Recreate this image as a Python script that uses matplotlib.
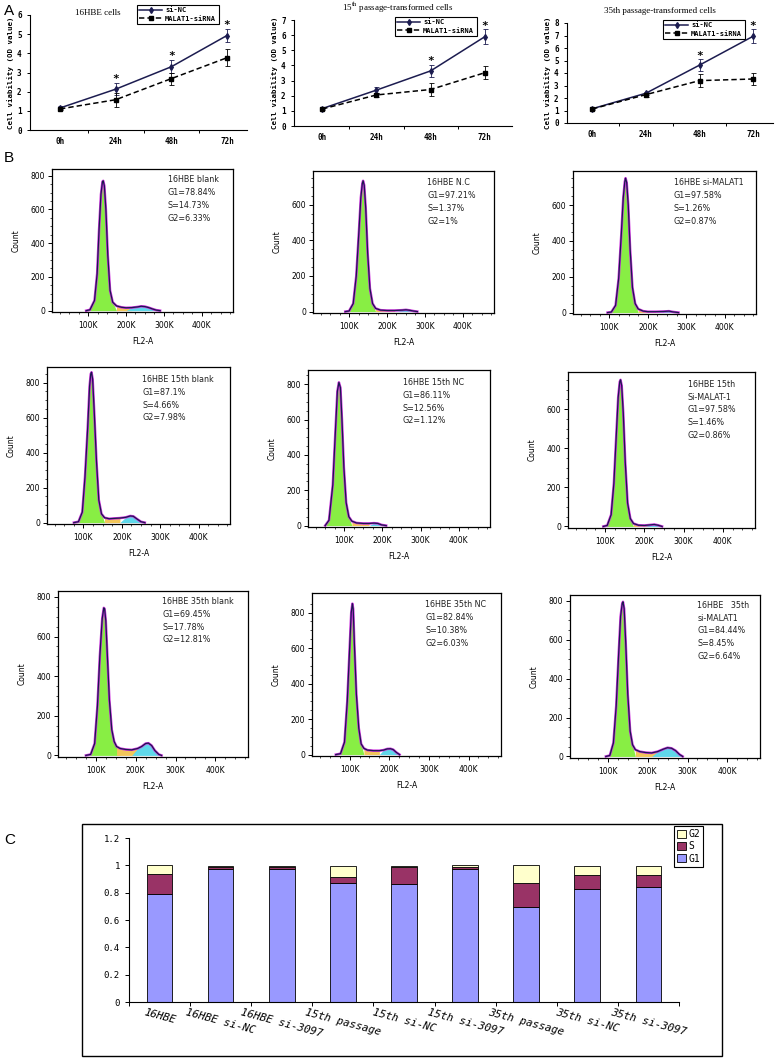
import numpy as np
import matplotlib
matplotlib.use("Agg")
import matplotlib.pyplot as plt
from matplotlib.patches import Rectangle, Patch
from matplotlib.lines import Line2D

plt.rcParams["mathtext.fontset"] = "stix"

# ---------------- data: panel A (cell viability, OD value) ----------------
hours = ["0h", "24h", "48h", "72h"]

a1_nc = [1.15, 2.13, 3.30, 4.93]
a1_nc_err = [0.08, 0.32, 0.33, 0.36]
a1_mal = [1.10, 1.58, 2.68, 3.77]
a1_mal_err = [0.05, 0.36, 0.32, 0.45]
a1_star = [False, True, True, True]

a2_nc = [1.15, 2.37, 3.64, 5.90]
a2_nc_err = [0.06, 0.22, 0.40, 0.48]
a2_mal = [1.12, 2.05, 2.41, 3.52]
a2_mal_err = [0.05, 0.15, 0.40, 0.42]
a2_star = [False, False, True, True]

a3_nc = [1.14, 2.38, 4.63, 6.94]
a3_nc_err = [0.05, 0.12, 0.48, 0.57]
a3_mal = [1.12, 2.27, 3.39, 3.52]
a3_mal_err = [0.05, 0.15, 0.52, 0.50]
a3_star = [False, False, True, True]

# ---------------- data: panel B (cell-cycle histograms, FL2-A in K) ----------------
b1_x = [95, 105, 117, 124, 129, 134, 138, 140, 143, 147, 152, 158, 165, 175, 188, 200, 215, 230, 240, 250, 260, 270, 280, 290]
b1_y = [0, 5, 60, 220, 480, 690, 765, 770, 740, 600, 330, 120, 50, 28, 20, 17, 18, 22, 26, 24, 18, 10, 3, 0]
b1_text = "16HBE blank\nG1=78.84%\nS=14.73%\nG2=6.33%"

b2_x = [90, 100, 111, 119, 126, 131, 135, 137, 140, 144, 149, 155, 162, 170, 183, 200, 220, 240, 250, 260, 270, 280]
b2_y = [0, 3, 45, 200, 450, 640, 720, 735, 710, 580, 330, 130, 45, 18, 8, 6, 6, 8, 10, 7, 3, 0]
b2_text = "16HBE N.C\nG1=97.21%\nS=1.37%\nG2=1%"

b3_x = [95, 105, 116, 124, 131, 136, 140, 142, 145, 149, 154, 160, 167, 175, 188, 200, 220, 240, 255, 265, 280]
b3_y = [0, 3, 40, 190, 440, 640, 730, 750, 725, 600, 350, 140, 50, 20, 8, 5, 5, 6, 8, 4, 0]
b3_text = "16HBE si-MALAT1\nG1=97.58%\nS=1.26%\nG2=0.87%"

b4_x = [75, 87, 97, 104, 111, 116, 119, 121, 124, 128, 134, 140, 147, 155, 167, 180, 195, 210, 222, 230, 240, 250, 260]
b4_y = [0, 5, 60, 260, 540, 780, 850, 860, 820, 640, 350, 130, 50, 28, 22, 24, 26, 30, 38, 36, 20, 5, 0]
b4_text = "16HBE 15th blank\nG1=87.1%\nS=4.66%\nG2=7.98%"

b5_x = [50, 60, 70, 77, 82, 86, 90, 94, 99, 105, 112, 120, 132, 150, 165, 178, 188, 198, 210]
b5_y = [0, 30, 230, 540, 760, 810, 780, 600, 330, 130, 50, 25, 15, 12, 12, 14, 12, 4, 0]
b5_text = "16HBE 15th NC\nG1=86.11%\nS=12.56%\nG2=1.12%"

b6_x = [95, 105, 115, 122, 128, 133, 137, 139, 142, 146, 151, 157, 164, 172, 185, 200, 215, 225, 235, 245]
b6_y = [0, 5, 60, 220, 460, 660, 740, 750, 720, 580, 330, 120, 40, 15, 6, 5, 8, 10, 6, 0]
b6_text = "16HBE 15th\nSi-MALAT-1\nG1=97.58%\nS=1.46%\nG2=0.86%"

b7_x = [75, 87, 97, 104, 110, 116, 120, 122, 125, 129, 134, 140, 146, 152, 161, 175, 190, 205, 215, 225, 232, 240, 248, 258, 265]
b7_y = [0, 5, 60, 250, 500, 690, 745, 740, 680, 500, 280, 130, 70, 45, 35, 30, 28, 35, 45, 60, 62, 50, 25, 5, 0]
b7_text = "16HBE 35th blank\nG1=69.45%\nS=17.78%\nG2=12.81%"

b8_x = [65, 77, 87, 94, 100, 104, 107, 109, 112, 117, 123, 129, 136, 145, 160, 175, 185, 195, 203, 210, 218, 226]
b8_y = [0, 5, 70, 300, 600, 800, 850, 820, 620, 340, 150, 60, 35, 25, 22, 22, 25, 32, 33, 28, 12, 0]
b8_text = "16HBE 35th NC\nG1=82.84%\nS=10.38%\nG2=6.03%"

b9_x = [95, 105, 114, 121, 127, 132, 136, 138, 141, 145, 150, 156, 162, 169, 180, 195, 210, 225, 240, 250, 260, 270, 280, 288]
b9_y = [0, 5, 70, 260, 520, 720, 785, 795, 760, 580, 320, 130, 60, 35, 25, 20, 18, 25, 38, 45, 42, 30, 10, 0]
b9_text = "16HBE   35th\nsi-MALAT1\nG1=84.44%\nS=8.45%\nG2=6.64%"

# phase boundaries (G1 end, G2 start) in K
b_phase = [(168, 215), (168, 235), (172, 235), (150, 205), (118, 170), (168, 215), (152, 205), (130, 180), (168, 225)]
b_ymax = [840, 790, 790, 890, 880, 790, 830, 910, 830]

# ---------------- data: panel C (phase fractions) ----------------
c_labels = ["16HBE", "16HBE si-NC", "16HBE si-3097", "15th passage", "15th si-NC",
            "15th si-3097", "35th passage", "35th si-NC", "35th si-3097"]
c_g1 = [0.7884, 0.9721, 0.9758, 0.8710, 0.8611, 0.9758, 0.6945, 0.8284, 0.8444]
c_s = [0.1473, 0.0137, 0.0126, 0.0466, 0.1256, 0.0146, 0.1778, 0.1038, 0.0845]
c_g2 = [0.0633, 0.0100, 0.0087, 0.0798, 0.0112, 0.0086, 0.1281, 0.0603, 0.0664]

W, H = 783, 1060
fig = plt.figure(figsize=(W / 100, H / 100), dpi=100)


def rect(x0, y0, x1, y1):
    return [x0 / W, 1 - y1 / H, (x1 - x0) / W, (y1 - y0) / H]


MONO = "DejaVu Sans Mono"


def growth_panel(box, xlim, ymax, nc, nc_err, mal, mal_err, stars, leg_xy):
    ax = fig.add_axes(rect(*box))
    x = np.arange(len(hours))
    ax.errorbar(x, nc, yerr=nc_err, color="#1c1c50", lw=1.1, marker="d", ms=3,
                capsize=1.8, elinewidth=0.6, capthick=0.6)
    ax.errorbar(x, mal, yerr=mal_err, color="black", lw=1.1, ls=(0, (3.5, 2)), marker="s",
                ms=3, capsize=1.8, elinewidth=0.6, capthick=0.6)
    for i, st in enumerate(stars):
        if st:
            top = max(nc[i] + nc_err[i], mal[i] + mal_err[i])
            ax.text(i, top + ymax * 0.035, "*", ha="center", va="center", fontsize=8,
                    family=MONO, fontweight="bold")
    ax.set_xlim(*xlim)
    ax.set_ylim(0, ymax)
    ax.set_yticks(range(0, ymax + 1))
    ax.set_yticklabels([str(v) for v in range(0, ymax + 1)], family=MONO, fontweight="bold", fontsize=5.5)
    ax.set_xticks([0.5, 1.5, 2.5])
    ax.set_xticklabels([])
    ax.set_xticks(x, minor=True)
    ax.set_xticklabels(hours, minor=True, family=MONO, fontweight="bold", fontsize=5.5)
    ax.tick_params(axis="x", which="minor", length=0, pad=5)
    ax.tick_params(axis="both", which="major", length=2.5, width=0.7, direction="out")
    ax.spines["top"].set_visible(False)
    ax.spines["right"].set_visible(False)
    for sp in ("left", "bottom"):
        ax.spines[sp].set_linewidth(0.8)
    ax.set_ylabel("Cell viability (OD value)", family=MONO, fontweight="bold", fontsize=5.3, labelpad=2)
    handles = [Line2D([], [], color="#1c1c50", lw=1.1, marker="d", ms=3),
               Line2D([], [], color="black", lw=1.1, ls=(0, (3.5, 2)), marker="s", ms=3)]
    leg = ax.legend(handles, ["si-NC", "MALAT1-siRNA"], loc="upper left",
                    bbox_to_anchor=(leg_xy[0] / W, 1 - leg_xy[1] / H), bbox_transform=fig.transFigure,
                    borderaxespad=0, fancybox=False, edgecolor="black", framealpha=1,
                    prop={"family": MONO, "weight": "bold", "size": 5}, handlelength=3.2,
                    handletextpad=0.5, labelspacing=0.35, borderpad=0.35)
    leg.get_frame().set_linewidth(0.8)
    return ax


growth_panel((30, 15, 247, 130), (-0.54, 3.36), 6, a1_nc, a1_nc_err, a1_mal, a1_mal_err, a1_star, (137, 5))
growth_panel((294, 20, 512, 126), (-0.52, 3.5), 7, a2_nc, a2_nc_err, a2_mal, a2_mal_err, a2_star, (395, 17))
growth_panel((567, 23, 773, 123), (-0.47, 3.37), 8, a3_nc, a3_nc_err, a3_mal, a3_mal_err, a3_star, (663, 20))

fig.text(98 / W, 1 - 13 / H, "16HBE cells", ha="center", va="center", family="Liberation Serif", fontsize=6.5)
fig.text(398 / W, 1 - 8 / H, "15$^{\\mathrm{th}}$ passage-transformed cells", ha="center", va="center",
         family="Liberation Serif", fontsize=6.5)
fig.text(660 / W, 1 - 11 / H, "35th passage-transformed cells", ha="center", va="center",
         family="Liberation Serif", fontsize=6.5)

# ---------------- panel B ----------------
b_boxes = [(52, 169, 233, 312), (313, 171, 494, 313), (573, 171, 756, 314),
           (47, 367, 230, 524), (308, 370, 490, 527), (568, 372, 755, 528),
           (58, 591, 248, 757), (312, 593, 501, 756), (570, 595, 760, 758)]
b_text_pos = [(0.64, 0.955), (0.63, 0.95), (0.55, 0.95),
              (0.52, 0.95), (0.52, 0.95), (0.64, 0.95),
              (0.55, 0.965), (0.60, 0.955), (0.67, 0.965)]
b_xs = [b1_x, b2_x, b3_x, b4_x, b5_x, b6_x, b7_x, b8_x, b9_x]
b_ys = [b1_y, b2_y, b3_y, b4_y, b5_y, b6_y, b7_y, b8_y, b9_y]
b_texts = [b1_text, b2_text, b3_text, b4_text, b5_text, b6_text, b7_text, b8_text, b9_text]

for k in range(9):
    ax = fig.add_axes(rect(*b_boxes[k]))
    hx = np.array(b_xs[k], dtype=float)
    hy = np.array(b_ys[k], dtype=float)
    g1_end, g2_start = b_phase[k]
    ax.fill_between(hx, 0, hy, where=hx <= g1_end, color="#88EE44", lw=0, interpolate=True)
    ax.fill_between(hx, 0, hy, where=(hx >= g1_end) & (hx <= g2_start), color="#F2C65A", lw=0, interpolate=True)
    ax.fill_between(hx, 0, hy, where=hx >= g2_start, color="#5FD8EA", lw=0, interpolate=True)
    ax.plot(hx, hy, color="#CC33DD", lw=1.8, solid_joinstyle="round")
    ax.plot(hx, hy, color="#1c1850", lw=0.9, solid_joinstyle="round")
    ax.set_xlim(5, 482)
    ax.set_ylim(-8, b_ymax[k])
    ax.set_xticks([100, 200, 300, 400])
    ax.set_xticklabels(["100K", "200K", "300K", "400K"], fontsize=5.5)
    ax.set_xticks(np.arange(25, 482, 25), minor=True)
    ax.set_yticks([v for v in (0, 200, 400, 600, 800) if v < b_ymax[k]])
    ax.set_yticks([v for v in range(0, 900, 50) if v < b_ymax[k]], minor=True)
    ax.tick_params(axis="y", labelsize=5.5, pad=2)
    ax.tick_params(which="major", length=3, width=0.7, direction="out")
    ax.tick_params(which="minor", length=1.6, width=0.5, direction="out")
    for sp in ax.spines.values():
        sp.set_linewidth(0.9)
    ax.set_xlabel("FL2-A", fontsize=5.5, labelpad=5)
    ax.set_ylabel("Count", fontsize=5.5, labelpad=7)
    tx, ty = b_text_pos[k]
    ax.text(tx, ty, b_texts[k], transform=ax.transAxes, ha="left", va="top",
            fontsize=5.8, linespacing=1.55, color="#222222")

# ---------------- panel C ----------------
fig.patches.append(Rectangle((82 / W, 1 - 1056 / H), (722 - 82) / W, (1056 - 824) / H,
                             transform=fig.transFigure, fill=False, lw=1.0, ec="black"))
axc = fig.add_axes(rect(129, 838, 679, 1002))
cx = np.arange(len(c_labels))
g1 = np.array(c_g1)
s = np.array(c_s)
g2 = np.array(c_g2)
axc.bar(cx, g1, width=0.42, color="#9999FF", edgecolor="black", lw=0.6)
axc.bar(cx, s, bottom=g1, width=0.42, color="#993366", edgecolor="black", lw=0.6)
axc.bar(cx, g2, bottom=g1 + s, width=0.42, color="#FFFFCC", edgecolor="black", lw=0.6)
axc.set_xlim(-0.5, len(c_labels) - 0.5)
axc.set_ylim(0, 1.2)
yt = [0, 0.2, 0.4, 0.6, 0.8, 1.0, 1.2]
axc.set_yticks(yt)
axc.set_yticklabels(["0", "0.2", "0.4", "0.6", "0.8", "1", "1.2"], family=MONO, fontsize=6.5)
axc.set_xticks(np.arange(-0.5, len(c_labels), 1.0))
axc.set_xticklabels([])
axc.set_xticks(cx, minor=True)
axc.set_xticklabels(c_labels, minor=True, family=MONO, style="italic", fontsize=7.8,
                    rotation=-15, ha="center", va="top", rotation_mode="default")
axc.tick_params(axis="x", which="minor", length=0, pad=4)
axc.tick_params(which="major", length=3, width=0.7, direction="out")
axc.spines["top"].set_visible(False)
axc.spines["right"].set_visible(False)
for sp in ("left", "bottom"):
    axc.spines[sp].set_linewidth(0.8)
leg_handles = [Patch(facecolor="#FFFFCC", edgecolor="black", lw=0.6),
               Patch(facecolor="#993366", edgecolor="black", lw=0.6),
               Patch(facecolor="#9999FF", edgecolor="black", lw=0.6)]
legc = axc.legend(leg_handles, ["G2", "S", "G1"], loc="upper left",
                  bbox_to_anchor=(674 / W, 1 - 826 / H), bbox_transform=fig.transFigure,
                  borderaxespad=0, fancybox=False, edgecolor="black", framealpha=1,
                  prop={"family": MONO, "size": 7}, handlelength=0.9, handleheight=0.9,
                  handletextpad=0.3, labelspacing=0.25, borderpad=0.3)
legc.get_frame().set_linewidth(0.8)

# panel letters
fig.text(4 / W, 1 - 11 / H, "A", fontsize=11, va="center", family="Liberation Sans")
fig.text(4 / W, 1 - 158 / H, "B", fontsize=11, va="center", family="Liberation Sans")
fig.text(4 / W, 1 - 840 / H, "C", fontsize=11, va="center", family="Liberation Sans")

fig.savefig("out.png", dpi=100)
